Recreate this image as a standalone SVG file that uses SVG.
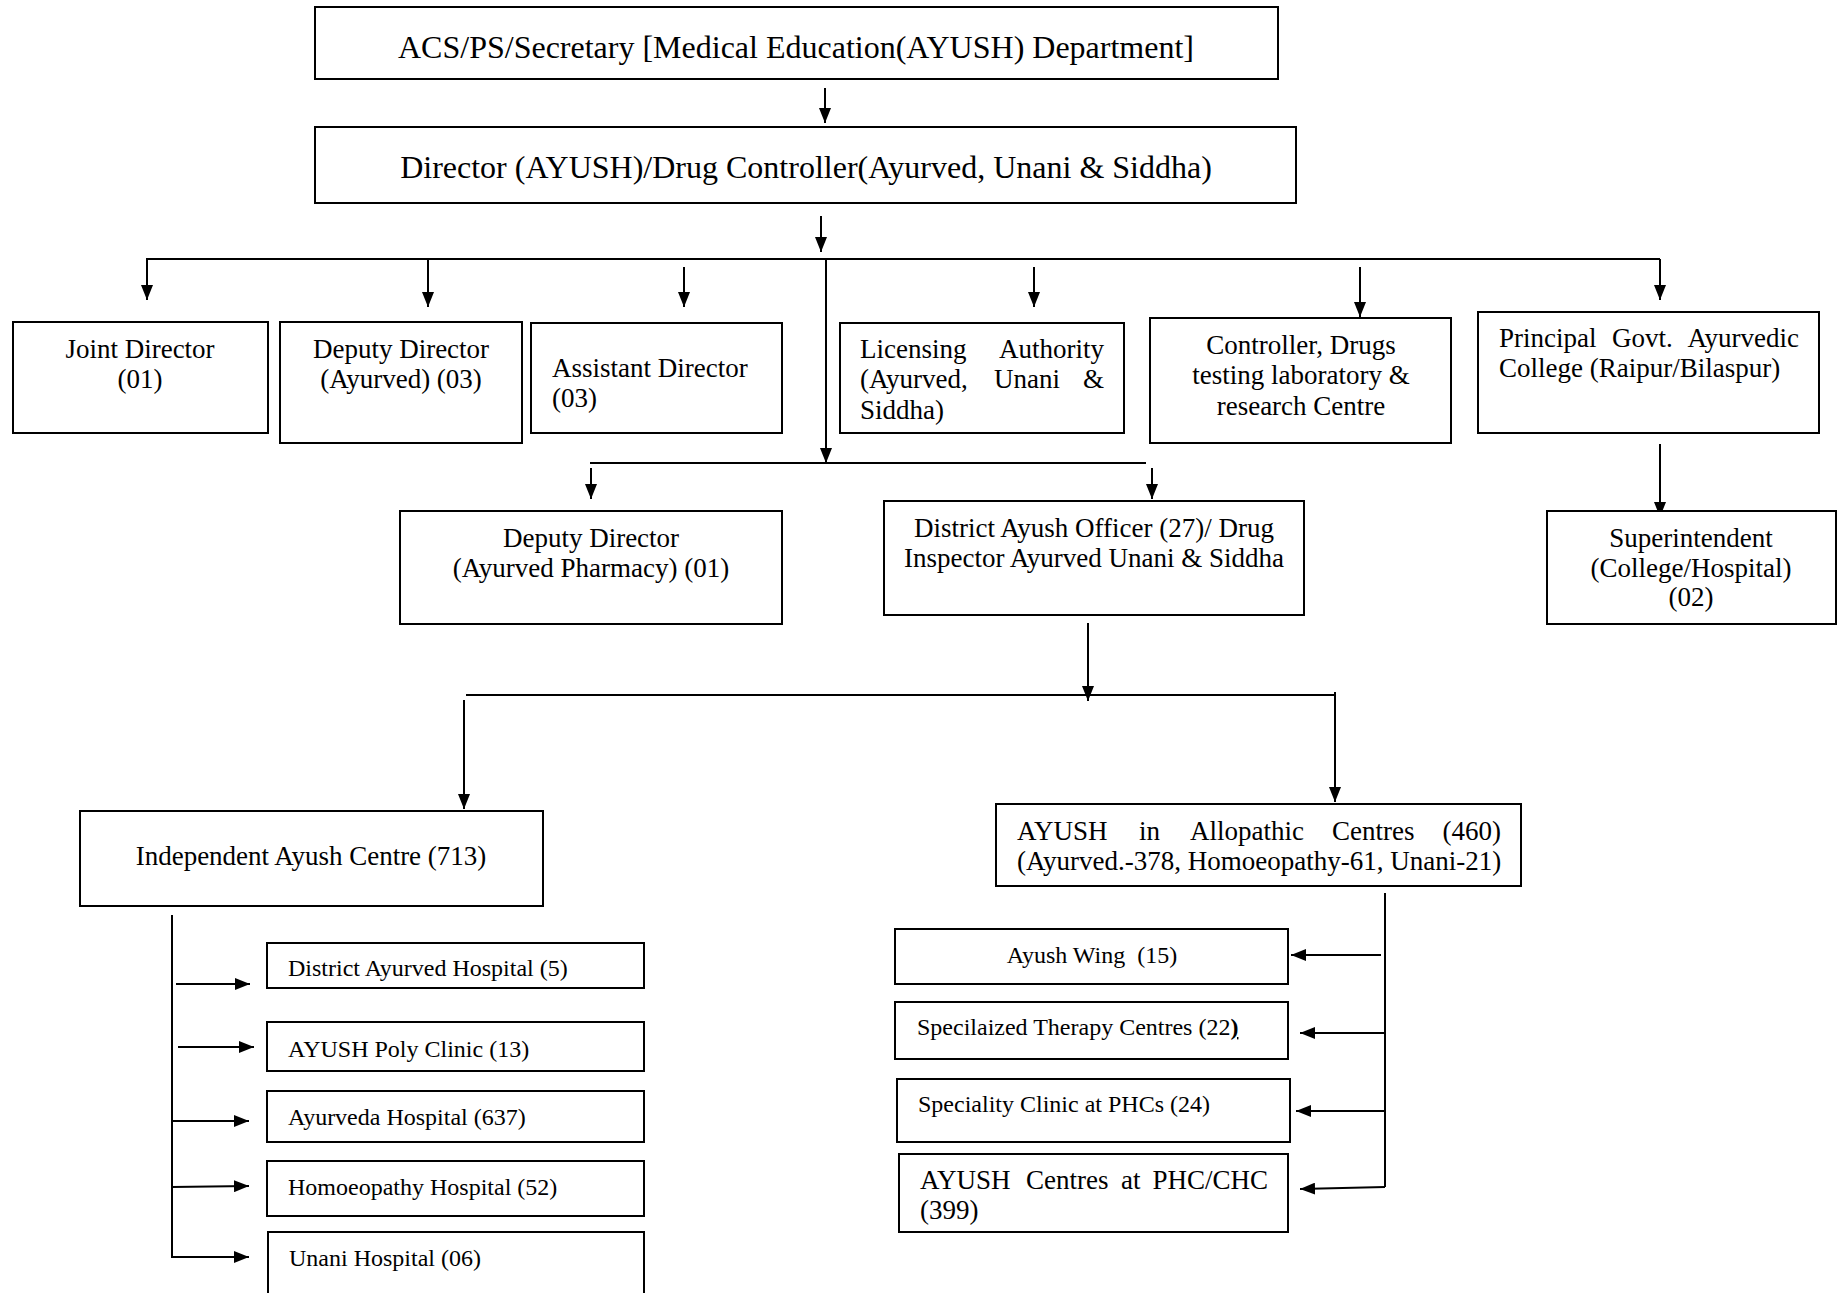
<svg xmlns="http://www.w3.org/2000/svg" width="1842" height="1293" viewBox="0 0 1842 1293">
<style>
.box{fill:#fff;stroke:#000;stroke-width:2}
text{font-family:"Liberation Serif","Times New Roman",serif;fill:#000}
.t32{font-size:32px}
.t27{font-size:27px}
.t24{font-size:24px}
.c{text-anchor:middle}
.e{text-anchor:end}
.ln{stroke:#000;stroke-width:2;fill:none}
.ar{marker-end:url(#ah)}
</style>
<defs>
<marker id="ah" markerUnits="userSpaceOnUse" markerWidth="15" markerHeight="12" refX="15" refY="6" orient="auto">
<path d="M0,0 L15,6 L0,12 z" fill="#000"/>
</marker>
</defs>
<rect width="1842" height="1293" fill="#fff"/>

<g id="connectors">
<line class="ln ar" x1="825" y1="88" x2="825" y2="123"/>
<line class="ln ar" x1="821" y1="216" x2="821" y2="252"/>
<line class="ln" x1="146" y1="259" x2="1660" y2="259"/>
<line class="ln ar" x1="147" y1="259" x2="147" y2="300"/>
<line class="ln ar" x1="428" y1="259" x2="428" y2="307"/>
<line class="ln ar" x1="684" y1="267" x2="684" y2="307"/>
<line class="ln ar" x1="1034" y1="267" x2="1034" y2="307"/>
<line class="ln ar" x1="1360" y1="267" x2="1360" y2="317"/>
<line class="ln ar" x1="1660" y1="259" x2="1660" y2="300"/>
<line class="ln ar" x1="826" y1="259" x2="826" y2="463"/>
<line class="ln" x1="590" y1="463" x2="1146" y2="463"/>
<line class="ln ar" x1="591" y1="468" x2="591" y2="499"/>
<line class="ln ar" x1="1152" y1="468" x2="1152" y2="499"/>
<line class="ln ar" x1="1660" y1="444" x2="1660" y2="517"/>
<line class="ln ar" x1="1088" y1="623" x2="1088" y2="701"/>
<line class="ln" x1="466" y1="695" x2="1335" y2="695"/>
<line class="ln ar" x1="464" y1="700" x2="464" y2="809"/>
<line class="ln ar" x1="1335" y1="692" x2="1335" y2="802"/>
<line class="ln" x1="172" y1="915" x2="172" y2="1258"/>
<line class="ln ar" x1="176" y1="984" x2="250" y2="984"/>
<line class="ln ar" x1="178" y1="1047" x2="254" y2="1047"/>
<line class="ln ar" x1="172" y1="1121" x2="249" y2="1121"/>
<line class="ln ar" x1="172" y1="1187" x2="249" y2="1186"/>
<line class="ln ar" x1="172" y1="1257" x2="249" y2="1257"/>
<line class="ln" x1="1385" y1="893" x2="1385" y2="1187"/>
<line class="ln ar" x1="1381" y1="955" x2="1291" y2="955"/>
<line class="ln ar" x1="1385" y1="1033" x2="1300" y2="1033"/>
<line class="ln ar" x1="1385" y1="1111" x2="1296" y2="1111"/>
<line class="ln ar" x1="1385" y1="1187" x2="1300" y2="1189"/>
</g>

<g id="acs">
<rect class="box" x="315" y="7" width="963" height="72"/>
<text class="t32 c" x="796" y="58">ACS/PS/Secretary [Medical Education(AYUSH) Department]</text>
</g>
<g id="director">
<rect class="box" x="315" y="127" width="981" height="76"/>
<text class="t32 c" x="806" y="178">Director (AYUSH)/Drug Controller(Ayurved, Unani &amp; Siddha)</text>
</g>
<g id="joint-director">
<rect class="box" x="13" y="322" width="255" height="111"/>
<text class="t27 c" x="140" y="358">Joint Director</text>
<text class="t27 c" x="140" y="388">(01)</text>
</g>
<g id="deputy-director-ayurved">
<rect class="box" x="280" y="322" width="242" height="121"/>
<text class="t27 c" x="401" y="358">Deputy Director</text>
<text class="t27 c" x="401" y="388">(Ayurved) (03)</text>
</g>
<g id="assistant-director">
<rect class="box" x="531" y="323" width="251" height="110"/>
<text class="t27" x="552" y="377">Assistant Director</text>
<text class="t27" x="552" y="407">(03)</text>
</g>
<g id="licensing-authority">
<rect class="box" x="840" y="323" width="284" height="110"/>
<text class="t27" x="860" y="358">Licensing</text>
<text class="t27 e" x="1104" y="358">Authority</text>
<text class="t27" x="860" y="388">(Ayurved,</text>
<text class="t27" x="994" y="388">Unani</text>
<text class="t27 e" x="1104" y="388">&amp;</text>
<text class="t27" x="860" y="419">Siddha)</text>
</g>
<g id="controller-drugs">
<rect class="box" x="1150" y="318" width="301" height="125"/>
<text class="t27 c" x="1301" y="354">Controller, Drugs</text>
<text class="t27 c" x="1301" y="384">testing laboratory &amp;</text>
<text class="t27 c" x="1301" y="415">research Centre</text>
</g>
<g id="principal">
<rect class="box" x="1478" y="312" width="341" height="121"/>
<text class="t27" x="1499" y="347">Principal</text>
<text class="t27" x="1612" y="347">Govt.</text>
<text class="t27 e" x="1799" y="347">Ayurvedic</text>
<text class="t27" x="1499" y="377">College (Raipur/Bilaspur)</text>
</g>
<g id="deputy-director-pharmacy">
<rect class="box" x="400" y="511" width="382" height="113"/>
<text class="t27 c" x="591" y="547">Deputy Director</text>
<text class="t27 c" x="591" y="577">(Ayurved Pharmacy) (01)</text>
</g>
<g id="district-ayush-officer">
<rect class="box" x="884" y="501" width="420" height="114"/>
<text class="t27 c" x="1094" y="537">District Ayush Officer (27)/ Drug</text>
<text class="t27 c" x="1094" y="567">Inspector Ayurved Unani &amp; Siddha</text>
</g>
<g id="superintendent">
<rect class="box" x="1547" y="511" width="289" height="113"/>
<text class="t27 c" x="1691" y="547">Superintendent</text>
<text class="t27 c" x="1691" y="577">(College/Hospital)</text>
<text class="t27 c" x="1691" y="606">(02)</text>
</g>
<g id="independent-ayush-centre">
<rect class="box" x="80" y="811" width="463" height="95"/>
<text class="t27 c" x="311" y="865">Independent Ayush Centre (713)</text>
</g>
<g id="ayush-allopathic">
<rect class="box" x="996" y="804" width="525" height="82"/>
<text class="t27" x="1017" y="840">AYUSH</text>
<text class="t27" x="1139" y="840">in</text>
<text class="t27" x="1190" y="840">Allopathic</text>
<text class="t27" x="1332" y="840">Centres</text>
<text class="t27 e" x="1501" y="840">(460)</text>
<text class="t27" x="1017" y="870">(Ayurved.-378, Homoeopathy-61, Unani-21)</text>
</g>
<g id="district-ayurved-hospital">
<rect class="box" x="267" y="943" width="377" height="45"/>
<text class="t24" x="288" y="976">District Ayurved Hospital (5)</text>
</g>
<g id="ayush-poly-clinic">
<rect class="box" x="267" y="1022" width="377" height="49"/>
<text class="t24" x="288" y="1057">AYUSH Poly Clinic (13)</text>
</g>
<g id="ayurveda-hospital">
<rect class="box" x="267" y="1091" width="377" height="51"/>
<text class="t24" x="288" y="1125">Ayurveda Hospital (637)</text>
</g>
<g id="homoeopathy-hospital">
<rect class="box" x="267" y="1161" width="377" height="55"/>
<text class="t24" x="288" y="1195">Homoeopathy Hospital (52)</text>
</g>
<g id="unani-hospital">
<rect class="box" x="268" y="1232" width="376" height="75"/>
<text class="t24" x="289" y="1266">Unani Hospital (06)</text>
</g>
<g id="ayush-wing">
<rect class="box" x="895" y="929" width="393" height="55"/>
<text class="t24 c" x="1092" y="963">Ayush Wing &#160;(15)</text>
</g>
<g id="specialized-therapy">
<rect class="box" x="895" y="1002" width="393" height="57"/>
<text class="t24" x="917" y="1035">Specilaized Therapy Centres (22<tspan font-weight="bold" text-decoration="underline">)</tspan></text>
</g>
<g id="speciality-clinic">
<rect class="box" x="897" y="1079" width="393" height="63"/>
<text class="t24" x="918" y="1112">Speciality Clinic at PHCs (24)</text>
</g>
<g id="ayush-centres-phc">
<rect class="box" x="899" y="1154" width="389" height="78"/>
<text class="t27" x="920" y="1189">AYUSH</text>
<text class="t27" x="1026" y="1189">Centres</text>
<text class="t27" x="1121" y="1189">at</text>
<text class="t27 e" x="1268" y="1189">PHC/CHC</text>
<text class="t27" x="920" y="1219">(399)</text>
</g>
</svg>
